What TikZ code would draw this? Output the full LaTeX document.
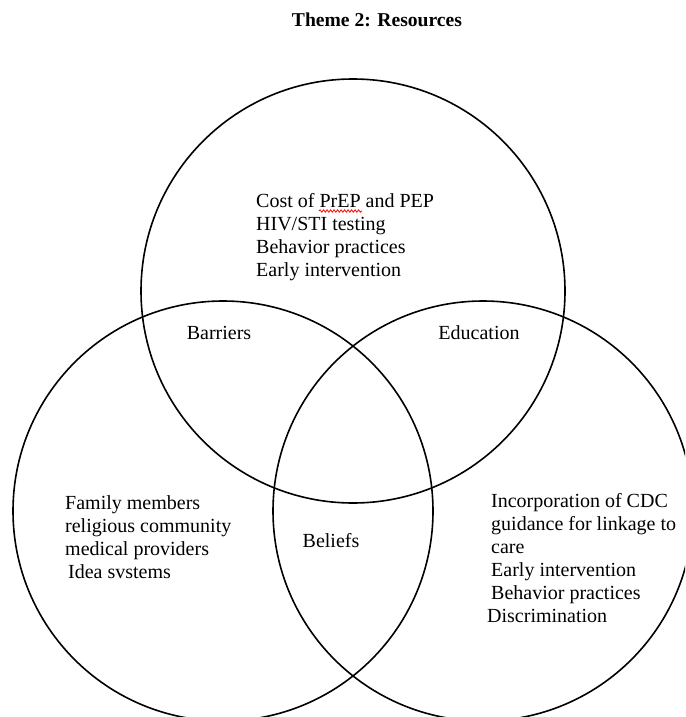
\documentclass[tikz,border=0pt]{standalone}
\usepackage{fontspec}
\setmainfont{Liberation Serif}
\usetikzlibrary{decorations.pathmorphing}
\begin{document}
\begin{tikzpicture}[x=1pt,y=-1pt,
  ring/.style={draw=black,line width=1.6pt},
  txt/.style={anchor=base west,inner sep=0pt,font=\fontsize{20}{23}\selectfont},
  lbl/.style={anchor=base,inner sep=0pt,font=\fontsize{20}{23}\selectfont},
  ttl/.style={anchor=base,inner sep=0pt,font=\fontsize{19.6}{23}\selectfont\bfseries}]
\useasboundingbox (0,0) rectangle (685,717);
\clip (0,0) rectangle (685,717);
\fill[white] (0,0) rectangle (685,717);
% circles
\draw[ring] (353,291) circle[radius=212];
\draw[ring] (223,511) circle[radius=210];
\draw[ring] (483,511) circle[radius=210];
% title
\node[ttl] (title) at (377,27) {Theme 2: Resources};
% top block
\node[txt] (t1) at (256,207) {Cost of PrEP and PEP};
\node[txt] (t2) at (256,230) {HIV/STI testing};
\node[txt] (t3) at (256,253) {Behavior practices};
\node[txt] (t4) at (256,276) {Early intervention};
\draw[red,line width=0.8pt,decorate,decoration={snake,amplitude=1.2pt,segment length=3.5pt}] (319,211) -- (362,211);
% intersection labels
\node[lbl] (barriers) at (219,339) {Barriers};
\node[lbl] (education) at (479,339) {Education};
\node[lbl] (beliefs) at (331,547) {Beliefs};
% left block
\node[txt] (l1) at (65,509) {Family members};
\node[txt] (l2) at (65,532) {religious community};
\node[txt] (l3) at (65,555) {medical providers};
\node[txt] (l4) at (68,578) {Idea svstems};
% right block
\node[txt] (r1) at (491,507) {Incorporation of CDC};
\node[txt] (r2) at (491,530) {guidance for linkage to};
\node[txt] (r3) at (491,553) {care};
\node[txt] (r4) at (491,576) {Early intervention};
\node[txt] (r5) at (491,599) {Behavior practices};
\node[txt] (r6) at (487,622) {Discrimination};
\end{tikzpicture}
\end{document}
